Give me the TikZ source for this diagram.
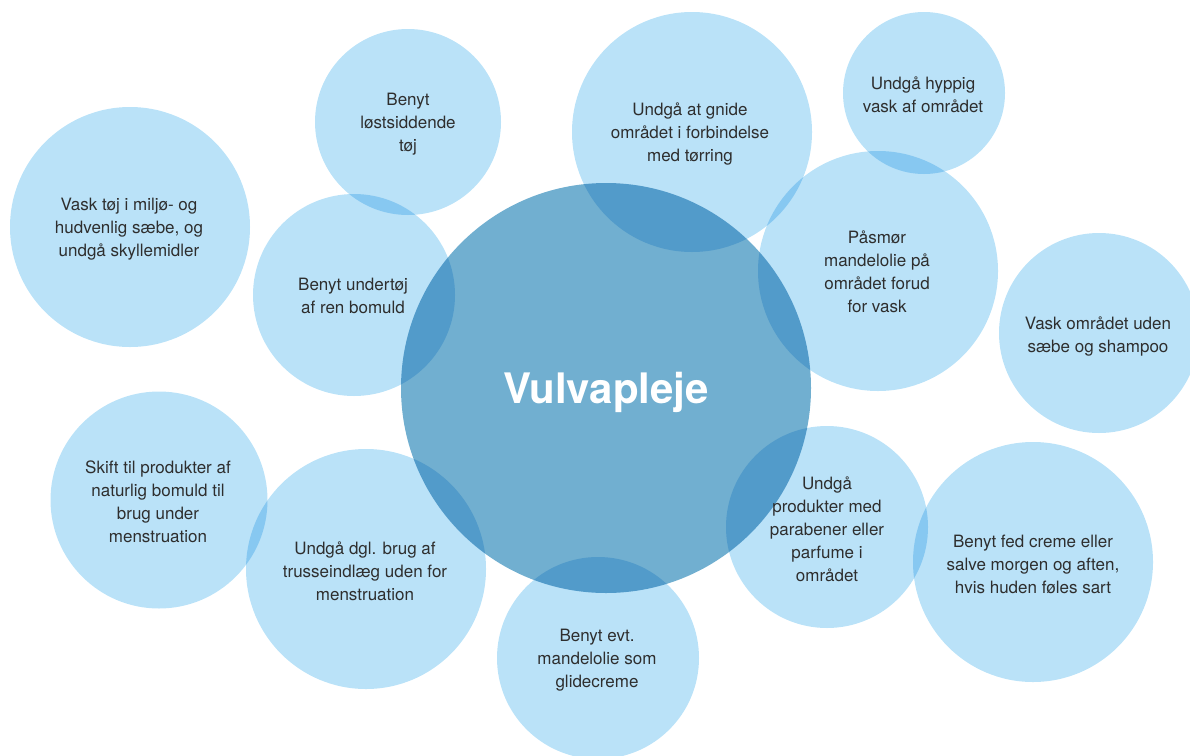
\documentclass[tikz,border=0pt]{standalone}
\usepackage{fontspec}
\setmainfont{TeX Gyre Heros}
\definecolor{bub}{HTML}{BAE2F8}
\definecolor{core}{HTML}{71AFD0}
\definecolor{ink}{HTML}{2E2E2E}
\begin{document}
\begin{tikzpicture}[x=1pt,y=-1pt,
  bubble/.style={circle,fill=bub,draw=none,inner sep=0pt,minimum size=#1},
  tip/.style={align=center,text=ink,inner sep=0pt,font=\fontsize{17}{23}\selectfont},
  title/.style={text=white,inner sep=0pt,font=\fontsize{42}{48}\selectfont\bfseries}]
\useasboundingbox (0,0) rectangle (1190,755);
\begin{scope}[blend group=multiply]
  \node[bubble=410pt,fill=core] (core) at (606,388) {};
  \node[bubble=240pt] (b1) at (130,227) {};
  \node[bubble=186pt] (b2) at (408,122) {};
  \node[bubble=240pt] (b3) at (692,132) {};
  \node[bubble=162pt] (b4) at (924,93) {};
  \node[bubble=240pt] (b5) at (878,271) {};
  \node[bubble=202pt] (b6) at (354,295) {};
  \node[bubble=200pt] (b7) at (1099,333) {};
  \node[bubble=217pt] (b8) at (159,500) {};
  \node[bubble=240pt] (b9) at (366,569) {};
  \node[bubble=202pt] (b10) at (598,658) {};
  \node[bubble=202pt] (b11) at (827,527) {};
  \node[bubble=240pt] (b12) at (1033,562) {};
\end{scope}
\node[title] (t0) at (606,392) {Vulvapleje};
\node[tip] (t1) at (129,229) {Vask tøj i miljø- og\\hudvenlig sæbe, og\\undgå skyllemidler};
\node[tip] (t2) at (408,124) {Benyt\\løstsiddende\\tøj};
\node[tip] (t3) at (690,134) {Undgå at gnide\\området i forbindelse\\med tørring};
\node[tip] (t4) at (923,95) {Undgå hyppig\\vask af området};
\node[tip] (t5) at (877,272) {Påsmør\\mandelolie på\\området forud\\for vask};
\node[tip] (t6) at (353,296) {Benyt undertøj\\af ren bomuld};
\node[tip] (t7) at (1098,336) {Vask området uden\\sæbe og shampoo};
\node[tip] (t8) at (158,502) {Skift til produkter af\\naturlig bomuld til\\brug under\\menstruation};
\node[tip] (t9) at (365,571) {Undgå dgl. brug af\\trusseindlæg uden for\\menstruation};
\node[tip] (t10) at (597,660) {Benyt evt.\\mandelolie som\\glidecreme};
\node[tip] (t11) at (827,529) {Undgå\\produkter med\\parabener eller\\parfume i\\området};
\node[tip] (t12) at (1033,564) {Benyt fed creme eller\\salve morgen og aften,\\hvis huden føles sart};
\end{tikzpicture}
\end{document}
